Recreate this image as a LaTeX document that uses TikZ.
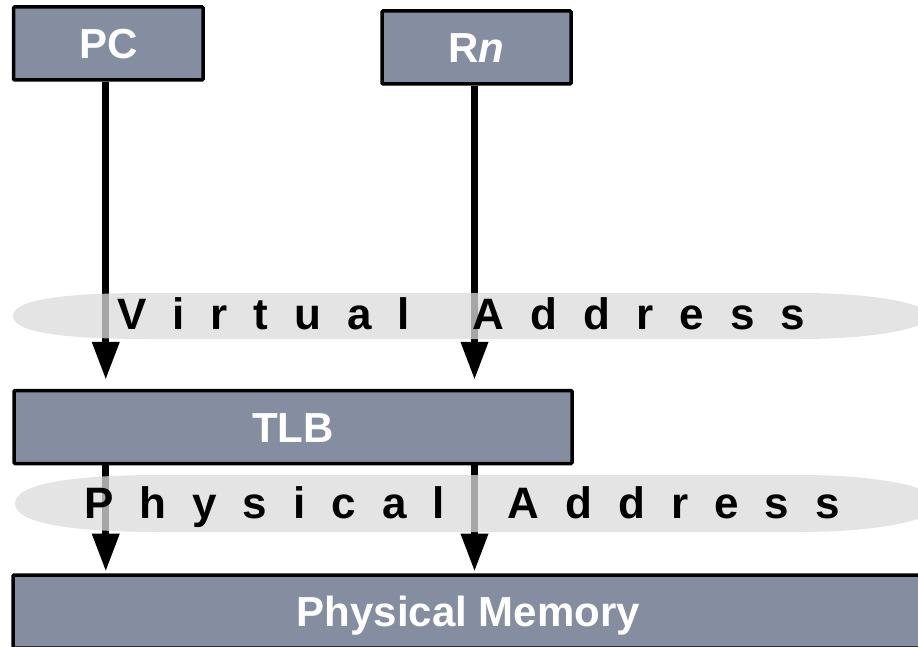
\documentclass[tikz,border=0pt]{standalone}
\usepackage{fontspec}
\setmainfont{Liberation Sans}
\usetikzlibrary{arrows.meta}
\definecolor{boxfill}{RGB}{133,141,161}
\definecolor{bandfill}{RGB}{219,219,219}
\newcommand\lsp{\hspace{26pt}}
\newcommand\wsp{\hspace{63pt}}
\begin{document}
\begin{tikzpicture}[x=1pt, y=-1pt,
  box/.style={draw=black, line width=3.5pt, fill=boxfill, rounded corners=1pt,
    text=white, font=\fontsize{42}{46}\selectfont\bfseries,
    text height=30pt, text depth=0pt, inner sep=0pt, minimum height=73pt},
  band/.style={fill=bandfill, fill opacity=0.76},
  spaced/.style={font=\fontsize{44}{48}\selectfont\bfseries,
    text height=31.5pt, text depth=0pt, inner sep=0pt},
  link/.style={line width=7pt, -{Triangle[length=38pt,width=26pt]}}]
\useasboundingbox (0,0) rectangle (918,647);
\clip (0,0) rectangle (918,647);
% boxes
\node[box, minimum width=189.5pt] (pc) at (108.25,43.5) {PC};
\node[box, minimum width=189pt] (rn) at (476.5,47.5) {R\textit{n}};
\node[box, minimum width=558pt] (tlb) at (293,427) {TLB};
\node[box, minimum width=911pt] (pm) at (468.5,611.5) {Physical Memory};
% connectors
\coordinate (ax) at ([xshift=-2.5pt]pc.south);
\coordinate (bx) at ([xshift=-2pt]rn.south);
\draw[link, shorten >=9pt] (ax) -- (ax |- tlb.north);
\draw[link, shorten >=9pt] (bx) -- (bx |- tlb.north);
\draw[link, shorten >=1.75pt] (tlb.south -| ax) -- (pm.north -| ax);
\draw[link, shorten >=1.75pt] (tlb.south -| bx) -- (pm.north -| bx);
% bands
\fill[band] (13,316) .. controls (13,300) and (60,293) .. (150,293) -- (800,293)
  .. controls (880,293) and (930,305) .. (930,316)
  .. controls (930,327) and (880,339) .. (800,339) -- (150,339)
  .. controls (60,339) and (13,332) .. (13,316) -- cycle;
\fill[band] (15,503.5) .. controls (15,484) and (70,475) .. (160,475) -- (800,475)
  .. controls (890,475) and (940,490) .. (940,503.5)
  .. controls (940,517) and (890,532) .. (800,532) -- (160,532)
  .. controls (70,532) and (15,523) .. (15,503.5) -- cycle;
% band texts
\node[spaced] (va) at (461,314) {V\lsp i\lsp r\lsp t\lsp u\lsp a\lsp l\wsp A\lsp d\lsp d\lsp r\lsp e\lsp s\lsp s};
\node[spaced] (pa) at (462,502.5) {P\lsp h\lsp y\lsp s\lsp i\lsp c\lsp a\lsp l\wsp A\lsp d\lsp d\lsp r\lsp e\lsp s\lsp s};
\end{tikzpicture}
\end{document}
